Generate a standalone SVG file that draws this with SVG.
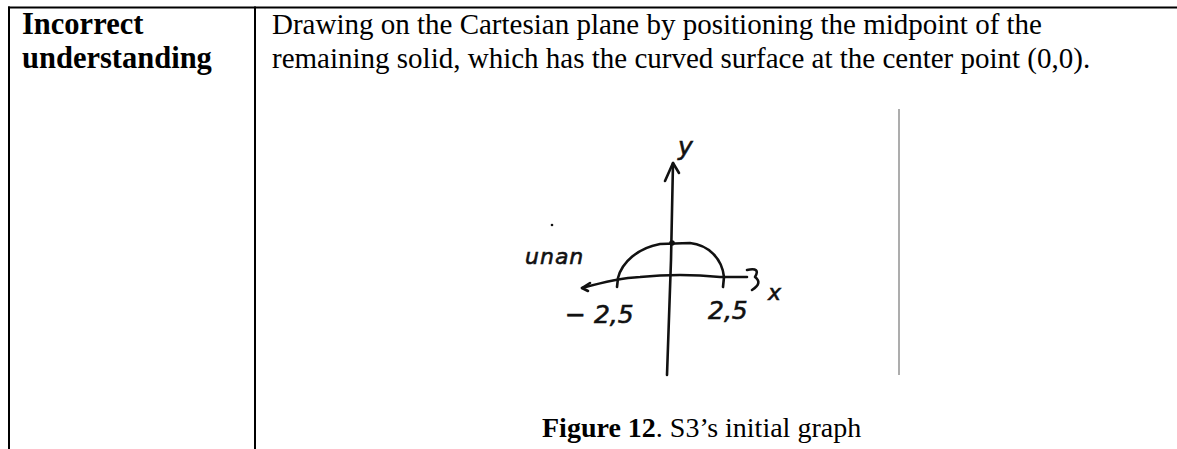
<svg xmlns="http://www.w3.org/2000/svg" width="1177" height="449" viewBox="0 0 1177 449">
<style>
.grid{stroke:#000;stroke-width:2;fill:none}
.t{font-family:"Liberation Serif","Times New Roman",serif;fill:#000}
.b{font-weight:bold}
.ink{stroke:#111;stroke-width:2.6;fill:none;stroke-linecap:round;stroke-linejoin:round}
.hw{font-family:"DejaVu Sans",sans-serif;font-style:italic;fill:#111;stroke:#111;stroke-width:0.6}
</style>
<rect width="1177" height="449" fill="#fff"/>
<g id="table">
<line class="grid" x1="8" y1="7.5" x2="1177" y2="7.5"/>
<line class="grid" x1="9" y1="6.5" x2="9" y2="449"/>
<line class="grid" x1="255" y1="6.5" x2="255" y2="449"/>
</g>
<g id="cell-label">
<text class="t b" x="22" y="34" font-size="30.5">Incorrect</text>
<text class="t b" x="22" y="68" font-size="30.5">understanding</text>
</g>
<g id="cell-content">
<text class="t" x="272" y="34" font-size="29">Drawing on the Cartesian plane by positioning the midpoint of the</text>
<text class="t" x="272" y="68" font-size="29">remaining solid, which has the curved surface at the center point (0,0).</text>
</g>
<g id="sketch">
<line x1="899" y1="109" x2="899" y2="375" stroke="#777" stroke-width="1.5" opacity="0.8"/>
<path class="ink" d="M667,375 L671,260 L673,163"/>
<path class="ink" d="M665,181 L673,163 L679,173"/>
<path class="ink" d="M582,288 C600,283 620,278 640,277 C660,275 690,274 720,277 L747,277"/>
<path class="ink" d="M590,283 L582,288 L588,291"/>
<path class="ink" d="M747,270 Q761,267 755,277 Q763,283 752,290"/>
<path class="ink" d="M617,287 L618,278 C622,262 638,248 660,244 L690,243 C708,245 722,258 724,277 L723,287"/>
<circle cx="672" cy="243" r="2.8" fill="#111"/>
<circle cx="552" cy="225" r="1.3" fill="#111"/>
<text class="hw" x="678" y="155" font-size="25">y</text>
<text class="hw" x="768" y="300" font-size="22">x</text>
<text class="hw" x="525" y="264" font-size="22" letter-spacing="1">unan</text>
<text class="hw" x="565" y="323" font-size="25">− 2,5</text>
<text class="hw" x="708" y="319" font-size="25">2,5</text>
</g>
<g id="caption">
<text class="t" x="542" y="437" font-size="28"><tspan class="b">Figure 12</tspan>. S3’s initial graph</text>
</g>
</svg>
